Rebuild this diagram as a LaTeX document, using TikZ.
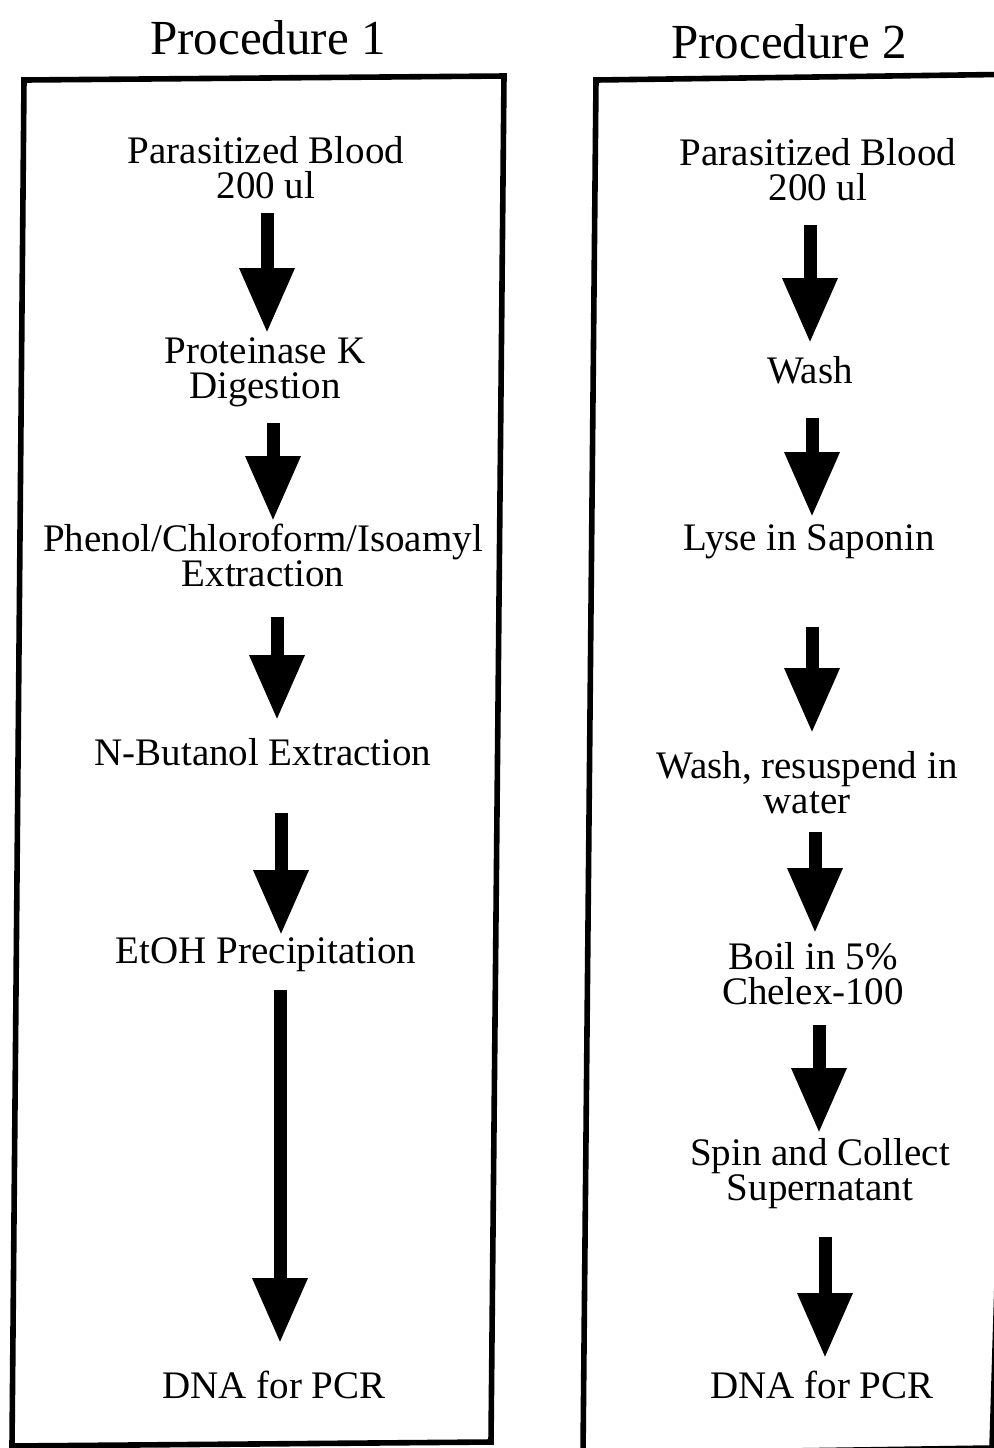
\documentclass[tikz,border=0pt]{standalone}
\usepackage{fontspec}
\setmainfont{Liberation Serif}
\usetikzlibrary{arrows.meta}
\begin{document}
\begin{tikzpicture}[x=0.5pt,y=-0.5pt,
  frame/.style={line width=2.8pt, line join=miter},
  flowarrow/.style={line width=6.5pt, -{Triangle[width=26pt,length=32.5pt]}},
  stage/.style={font=\fontsize{19.5}{17.5}\selectfont, align=center, inner sep=0pt},
  heading/.style={font=\fontsize{24.5}{28}\selectfont, inner sep=0pt}]
\useasboundingbox (0,0) rectangle (994,1448);
\clip (0,0) rectangle (994,1448);
\fill[white] (0,0) rectangle (994,1448);

% headings
\node[heading] (h1) at (268,38) {Procedure 1};
\node[heading] (h2) at (789,42) {Procedure 2};

% frames (slightly tilted, as scanned)
\draw[frame] (24,80) -- (504,76) -- (491,1442) -- (12,1446) -- cycle;
\draw[frame] (596,80) -- (1034,74) -- (992,1448) -- (583,1454) -- cycle;

% procedure 1 stages
\node[stage] (p1a) at (266,168) {Parasitized Blood\\200 ul};
\node[stage] (p1b) at (265,372) {Proteinase K\\Digestion};
\node[stage] (p1c) at (263,555) {Phenol/Chloroform/Isoamyl\\Extraction};
\node[stage] (p1d) at (263,752) {N-Butanol Extraction};
\node[stage] (p1e) at (266,955) {EtOH Precipitation};
\node[stage] (p1f) at (274,1385) {DNA for PCR};

% procedure 2 stages
\node[stage] (p2a) at (818,170) {Parasitized Blood\\200 ul};
\node[stage] (p2b) at (810,370) {Wash};
\node[stage] (p2c) at (809,542) {Lyse in Saponin};
\node[stage] (p2d) at (807,783) {Wash, resuspend in\\water};
\node[stage] (p2e) at (813,974) {Boil in 5\%\\Chelex-100};
\node[stage] (p2f) at (820,1174) {Spin and Collect\\Supernatant};
\node[stage] (p2g) at (822,1385) {DNA for PCR};

% arrow ends, procedure 1
\coordinate (a1s) at (267,213);  \coordinate (a1e) at (267,333);
\coordinate (a2s) at (273,423);  \coordinate (a2e) at (273,521);
\coordinate (a3s) at (277,617);  \coordinate (a3e) at (277,720);
\coordinate (a4s) at (281,813);  \coordinate (a4e) at (281,935);
\coordinate (a5s) at (280,990);  \coordinate (a5e) at (280,1343);
% arrow ends, procedure 2
\coordinate (b1s) at (810,225);  \coordinate (b1e) at (810,343);
\coordinate (b2s) at (812,418);  \coordinate (b2e) at (812,517);
\coordinate (b3s) at (812,627);  \coordinate (b3e) at (812,733);
\coordinate (b4s) at (815,832);  \coordinate (b4e) at (815,933);
\coordinate (b5s) at (819,1025); \coordinate (b5e) at (819,1133);
\coordinate (b6s) at (825,1237); \coordinate (b6e) at (825,1358);

\foreach \k in {a1,a2,a3,a4,a5,b1,b2,b3,b4,b5,b6}
  \draw[flowarrow] (\k s) -- (\k e);
\end{tikzpicture}
\end{document}
